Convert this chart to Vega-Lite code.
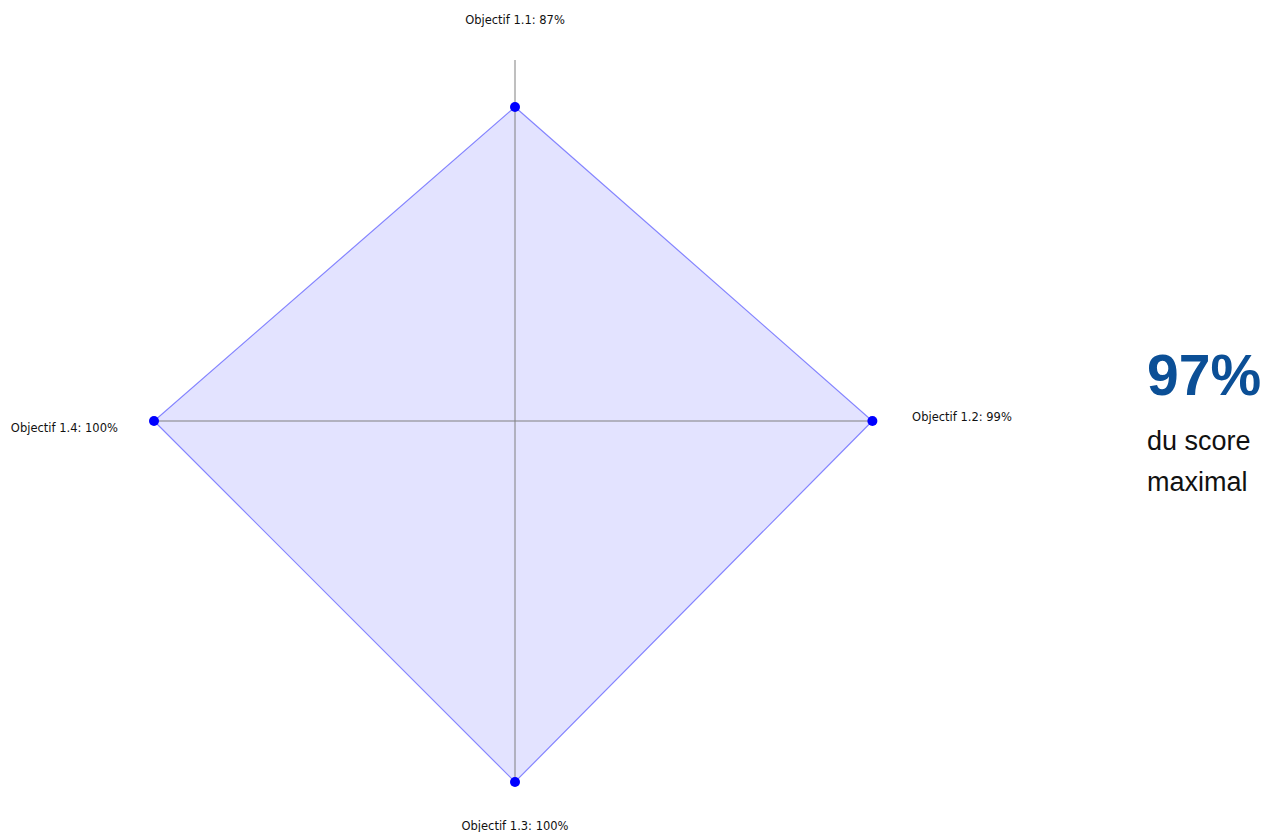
{
  "$schema": "https://vega.github.io/schema/vega-lite/v6.json",
  "padding": 0,
  "spacing": 0,
  "background": "white",
  "config": {"view": {"stroke": null}},
  "hconcat": [
    {
      "width": 1031,
      "height": 832,
      "data": {"values": [
        {"objectif": "Objectif 1.1", "score": 87, "rang": 0},
        {"objectif": "Objectif 1.2", "score": 99, "rang": 1},
        {"objectif": "Objectif 1.3", "score": 100, "rang": 2},
        {"objectif": "Objectif 1.4", "score": 100, "rang": 3}
      ]},
      "transform": [
        {"calculate": "datum.rang * PI / 2", "as": "angle"},
        {"calculate": "sin(datum.angle) * datum.score / 100", "as": "px"},
        {"calculate": "cos(datum.angle) * datum.score / 100", "as": "py"},
        {"calculate": "sin(datum.angle)", "as": "ax"},
        {"calculate": "cos(datum.angle)", "as": "ay"},
        {"calculate": "datum.rang % 2 == 0 ? 1.115 : 1.1", "as": "lr"},
        {"calculate": "sin(datum.angle) * datum.lr", "as": "lx"},
        {"calculate": "cos(datum.angle) * datum.lr", "as": "ly"},
        {"calculate": "datum.objectif + ': ' + datum.score + '%'", "as": "etiquette"}
      ],
      "layer": [
        {
          "mark": {"type": "line", "interpolate": "linear-closed", "fill": "blue", "fillOpacity": 0.11, "stroke": "blue", "strokeOpacity": 0.45, "strokeWidth": 1.2},
          "encoding": {
            "x": {"field": "px", "type": "quantitative", "scale": {"domain": [-1.4266, 1.4294], "nice": false, "zero": false}, "axis": null},
            "y": {"field": "py", "type": "quantitative", "scale": {"domain": [-1.1385, 1.1662], "nice": false, "zero": false}, "axis": null},
            "order": {"field": "rang", "type": "quantitative"}
          }
        },
        {
          "mark": {"type": "rule", "color": "#808080", "opacity": 0.5, "strokeWidth": 2},
          "encoding": {
            "x": {"field": "ax", "type": "quantitative"},
            "y": {"field": "ay", "type": "quantitative"},
            "x2": {"datum": 0},
            "y2": {"datum": 0}
          }
        },
        {
          "mark": {"type": "point", "shape": "circle", "filled": true, "color": "blue", "opacity": 1, "size": 100},
          "encoding": {
            "x": {"field": "px", "type": "quantitative"},
            "y": {"field": "py", "type": "quantitative"}
          }
        },
        {
          "transform": [{"filter": "datum.rang % 2 == 0"}],
          "mark": {"type": "text", "font": "DejaVu Sans", "fontSize": 11.5, "color": "#111111", "align": "center", "baseline": "middle", "dy": 3},
          "encoding": {
            "x": {"field": "lx", "type": "quantitative"},
            "y": {"field": "ly", "type": "quantitative"},
            "text": {"field": "etiquette", "type": "nominal"}
          }
        },
        {
          "transform": [{"filter": "datum.rang == 1"}],
          "mark": {"type": "text", "font": "DejaVu Sans", "fontSize": 11.5, "color": "#111111", "align": "left", "baseline": "middle", "dy": -3},
          "encoding": {
            "x": {"field": "lx", "type": "quantitative"},
            "y": {"field": "ly", "type": "quantitative"},
            "text": {"field": "etiquette", "type": "nominal"}
          }
        },
        {
          "transform": [{"filter": "datum.rang == 3"}],
          "mark": {"type": "text", "font": "DejaVu Sans", "fontSize": 11.5, "color": "#111111", "align": "right", "baseline": "middle", "dy": 8},
          "encoding": {
            "x": {"field": "lx", "type": "quantitative"},
            "y": {"field": "ly", "type": "quantitative"},
            "text": {"field": "etiquette", "type": "nominal"}
          }
        }
      ]
    },
    {
      "width": 232,
      "height": 832,
      "data": {"values": [
        {"texte": "97%", "ligne": 1},
        {"texte": "du score", "ligne": 2},
        {"texte": "maximal", "ligne": 3}
      ]},
      "layer": [
        {
          "transform": [{"filter": "datum.ligne == 1"}],
          "mark": {"type": "text", "font": "Liberation Sans", "fontSize": 57, "fontWeight": "bold", "color": "#0b4f96", "align": "left", "baseline": "alphabetic", "dy": -14},
          "encoding": {
            "y": {"field": "ligne", "type": "quantitative", "scale": {"domain": [-8.976, 11.317], "reverse": true, "nice": false, "zero": false}, "axis": null},
            "text": {"field": "texte", "type": "nominal"}
          }
        },
        {
          "transform": [{"filter": "datum.ligne > 1"}],
          "mark": {"type": "text", "font": "Liberation Sans", "fontSize": 27, "color": "#111111", "align": "left", "baseline": "alphabetic"},
          "encoding": {
            "y": {"field": "ligne", "type": "quantitative"},
            "text": {"field": "texte", "type": "nominal"}
          }
        }
      ]
    }
  ]
}
